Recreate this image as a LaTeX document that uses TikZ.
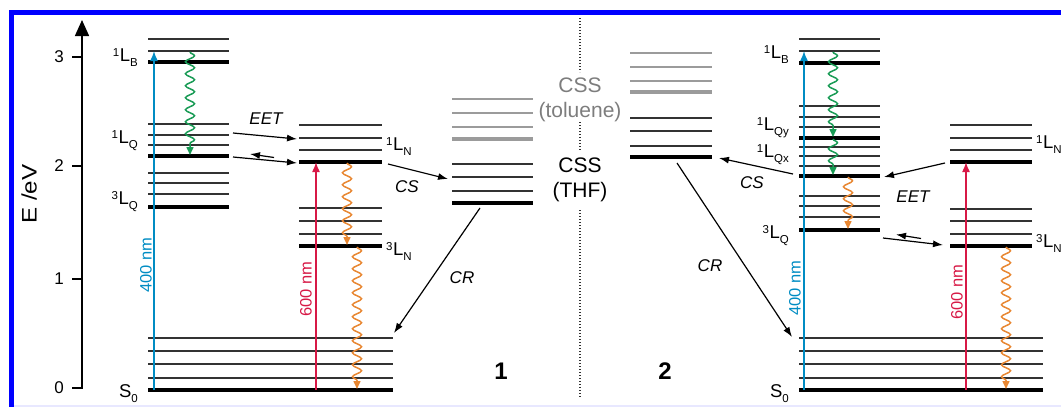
\documentclass[tikz,border=0pt]{standalone}
\usepackage{fontspec}
\setmainfont{Liberation Sans}
\setsansfont{Liberation Sans}
\usetikzlibrary{arrows.meta,decorations.pathmorphing}

\definecolor{frameblue}{RGB}{0,0,255}
\definecolor{exblue}{RGB}{0,140,195}
\definecolor{exred}{RGB}{215,25,70}
\definecolor{relgreen}{RGB}{25,155,85}
\definecolor{relorange}{RGB}{232,135,50}
\definecolor{levdark}{RGB}{50,50,50}
\definecolor{levgray}{RGB}{155,155,155}
\definecolor{cssgray}{RGB}{125,125,125}

\newcommand\fs[1]{\fontsize{#1}{#1}\selectfont}
% state label: superscript multiplicity, L, subscript
\newcommand\stlab[2]{\raisebox{5pt}{\fs{11.5}#1}\hspace{0.6pt}L\raisebox{-5pt}{\fs{11.5}#2}}
\newcommand\gnd{S\raisebox{-5pt}{\fs{11.5}0}}

\tikzset{
  lvthin/.style={line width=1.4pt, draw=levdark},
  lvthick/.style={line width=4.5pt, draw=black},
  lvgray/.style={line width=1.4pt, draw=levgray},
  lvgraythick/.style={line width=3.5pt, draw=levgray},
  arr/.style={line width=1.2pt, draw=black, -{Latex[length=10pt,width=7pt]}},
  exc/.style={line width=1.5pt, -{Latex[length=10pt,width=8pt]}},
  wavy/.style={line width=1.5pt, decorate,
    decoration={snake, amplitude=4.5pt, segment length=12pt, post length=7pt},
    -{Triangle[length=8pt,width=7pt]}},
  proc/.style={font=\fs{17}\itshape},
  state/.style={font=\fs{18.5}, inner sep=0pt},
  wl/.style={font=\fs{16.5}, rotate=90, inner sep=0pt},
  css/.style={font=\fs{21}, inner sep=0pt},
  tick/.style={font=\fs{17}, inner sep=0pt, anchor=east},
  cmpd/.style={font=\fs{24}\bfseries, inner sep=0pt}
}

\begin{document}
\begin{tikzpicture}[x=1pt,y=-1pt]
\useasboundingbox (0,0) rectangle (1061,407);
\begin{scope}
\clip (0,0) rectangle (1061,407);

% frame
\draw[frameblue, line width=5.5pt] (11.5,440) -- (11.5,12.3) -- (1090,12.3);
\draw[line width=2.5pt, draw={rgb,255:red,232;green,232;blue,255}] (14,405.8) -- (1061,405.8);

% energy axis
\draw[line width=1.5pt, -{Triangle[length=16pt,width=14pt]}] (72,388) -- (82,388) -- (82,20);
\foreach \yy in {57,166,279}
  \draw[line width=1.5pt] (72,\yy) -- (82,\yy);
\node[tick] (t3) at (64,57) {3};
\node[tick] (t2) at (64,166) {2};
\node[tick] (t1) at (64,279) {1};
\node[tick] (t0) at (64,388) {0};
\node[font=\fs{21}, rotate=90, inner sep=0pt] (eax) at (29,194) {\scalebox{1.15}[1]{E /eV}};

% separator
\draw[line width=1.3pt, dash pattern=on 1.3pt off 1.7pt, draw=levdark]
  (580,18) -- (580,72) (580,122) -- (580,151) (580,210) -- (580,398);

% ---------- compound 1 ----------
% donor levels
\foreach \yy in {39,51,124,135,145,173,183,194} \draw[lvthin] (148,\yy) -- (229,\yy);
\foreach \yy in {62,156,207} \draw[lvthick] (148,\yy) -- (229,\yy);
% acceptor levels
\foreach \yy in {125,138,150,208,221,234} \draw[lvthin] (299,\yy) -- (382,\yy);
\foreach \yy in {162,246} \draw[lvthick] (299,\yy) -- (382,\yy);
% charge separated state
\foreach \yy in {99,113,127} \draw[lvgray] (452,\yy) -- (533,\yy);
\draw[lvgraythick] (452,139) -- (533,139);
\foreach \yy in {164,177,191} \draw[lvthin] (452,\yy) -- (533,\yy);
\draw[lvthick] (452,203) -- (533,203);
% ground state
\foreach \yy in {338,351,364,378} \draw[lvthin] (148,\yy) -- (393,\yy);
\draw[lvthick] (148,390) -- (393,390);

\node[state, anchor=base east] (lb1) at (138,61) {\stlab{1}{B}};
\node[state, anchor=base east] (lq1) at (138,143) {\stlab{1}{Q}};
\node[state, anchor=base east] (tq1) at (138,204) {\stlab{3}{Q}};
\node[state, anchor=base east] (s01) at (138,397) {\gnd};
\node[state, anchor=base west] (ln1) at (386,150) {\stlab{1}{N}};
\node[state, anchor=base west] (tn1) at (386,255) {\stlab{3}{N}};

% excitation
\coordinate (bx0) at (154,390); \coordinate (bx1) at (154,51);
\draw[exc, exblue] (bx0) -- (bx1);
\node[wl, text=exblue] (nm400a) at (146,265) {400 nm};
\coordinate (rx0) at (316,390); \coordinate (rx1) at (316,162);
\draw[exc, exred] (rx0) -- (rx1);
\node[wl, text=exred] (nm600a) at (306,289) {600 nm};

% relaxation
\coordinate (ga0) at (190,52); \coordinate (ga1) at (190,155);
\draw[wavy, relgreen] (ga0) -- (ga1);
\coordinate (oa0) at (347,163); \coordinate (oa1) at (347,245);
\draw[wavy, relorange] (oa0) -- (oa1);
\coordinate (ob0) at (357,247); \coordinate (ob1) at (357,389);
\draw[wavy, relorange] (ob0) -- (ob1);

% energy / electron transfer
\coordinate (ea0) at (233,133); \coordinate (ea1) at (297,139);
\draw[arr] (ea0) -- (ea1);
\node[proc] (eet1) at (266,119) {EET};
\coordinate (eb0) at (233,157); \coordinate (eb1) at (297,163);
\draw[arr] (eb0) -- (eb1);
\coordinate (ec0) at (274,157.5); \coordinate (ec1) at (250,154);
\draw[arr] (ec0) -- (ec1);
\coordinate (cs0) at (388,164); \coordinate (cs1) at (448,179);
\draw[arr] (cs0) -- (cs1);
\node[proc] (cs1l) at (407,187) {CS};
\coordinate (cr0) at (480,208); \coordinate (cr1) at (394,333);
\draw[arr] (cr0) -- (cr1);
\node[proc] (cr1l) at (462,278) {CR};

\node[css, text=cssgray] (cssa) at (580,85) {CSS};
\node[css, text=cssgray] (tol) at (580,112) {(toluene)};
\node[css] (cssb) at (580,165) {CSS};
\node[css] (thf) at (580,192) {(THF)};

\node[cmpd] (c1) at (501,371) {1};
\node[cmpd] (c2) at (665,371) {2};

% ---------- compound 2 ----------
% charge separated state
\foreach \yy in {53,67,81} \draw[lvgray] (630,\yy) -- (712,\yy);
\draw[lvgraythick] (630,92) -- (712,92);
\foreach \yy in {118,131,146} \draw[lvthin] (630,\yy) -- (712,\yy);
\draw[lvthick] (630,157) -- (712,157);
% donor levels
\foreach \yy in {39,51,106,117,127,147,156,166,196,206,217} \draw[lvthin] (799,\yy) -- (880,\yy);
\foreach \yy in {63,138,176,230} \draw[lvthick] (799,\yy) -- (880,\yy);
% acceptor levels
\foreach \yy in {125,138,150,209,221,234} \draw[lvthin] (950,\yy) -- (1032,\yy);
\foreach \yy in {162,246} \draw[lvthick] (950,\yy) -- (1032,\yy);
% ground state
\foreach \yy in {338,351,364,378} \draw[lvthin] (799,\yy) -- (1043,\yy);
\draw[lvthick] (799,390) -- (1043,390);

\node[state, anchor=base east] (lb2) at (789,58) {\stlab{1}{B}};
\node[state, anchor=base east] (lqy2) at (789,130) {\stlab{1}{Qy}};
\node[state, anchor=base east] (lqx2) at (789,157) {\stlab{1}{Qx}};
\node[state, anchor=base east] (tq2) at (789,238) {\stlab{3}{Q}};
\node[state, anchor=base east] (s02) at (789,397) {\gnd};
\node[state, anchor=base west] (ln2) at (1036,148) {\stlab{1}{N}};
\node[state, anchor=base west] (tn2) at (1036,247) {\stlab{3}{N}};

% excitation
\coordinate (bx2) at (804,390); \coordinate (bx3) at (804,51);
\draw[exc, exblue] (bx2) -- (bx3);
\node[wl, text=exblue] (nm400b) at (795,288) {400 nm};
\coordinate (rx2) at (966,390); \coordinate (rx3) at (966,162);
\draw[exc, exred] (rx2) -- (rx3);
\node[wl, text=exred] (nm600b) at (957,292) {600 nm};

% relaxation
\coordinate (gb0) at (833,52); \coordinate (gb1) at (833,137);
\draw[wavy, relgreen] (gb0) -- (gb1);
\coordinate (gc0) at (833,139); \coordinate (gc1) at (833,175);
\draw[wavy, relgreen] (gc0) -- (gc1);
\coordinate (oc0) at (848,177); \coordinate (oc1) at (848,229);
\draw[wavy, relorange] (oc0) -- (oc1);
\coordinate (od0) at (1006,247); \coordinate (od1) at (1006,389);
\draw[wavy, relorange] (od0) -- (od1);

% energy / electron transfer
\coordinate (ee0) at (945,163); \coordinate (ee1) at (884,177);
\draw[arr] (ee0) -- (ee1);
\node[proc] (eet2) at (913,197) {EET};
\coordinate (ef0) at (883,238); \coordinate (ef1) at (943,245);
\draw[arr] (ef0) -- (ef1);
\coordinate (eg0) at (921,238.5); \coordinate (eg1) at (896,234.5);
\draw[arr] (eg0) -- (eg1);
\coordinate (cs2) at (793,174); \coordinate (cs3) at (719,158);
\draw[arr] (cs2) -- (cs3);
\node[proc] (cs2l) at (752,183) {CS};
\coordinate (cr2) at (677,163); \coordinate (cr3) at (792,337);
\draw[arr] (cr2) -- (cr3);
\node[proc] (cr2l) at (710,266) {CR};
\end{scope}
\end{tikzpicture}
\end{document}
